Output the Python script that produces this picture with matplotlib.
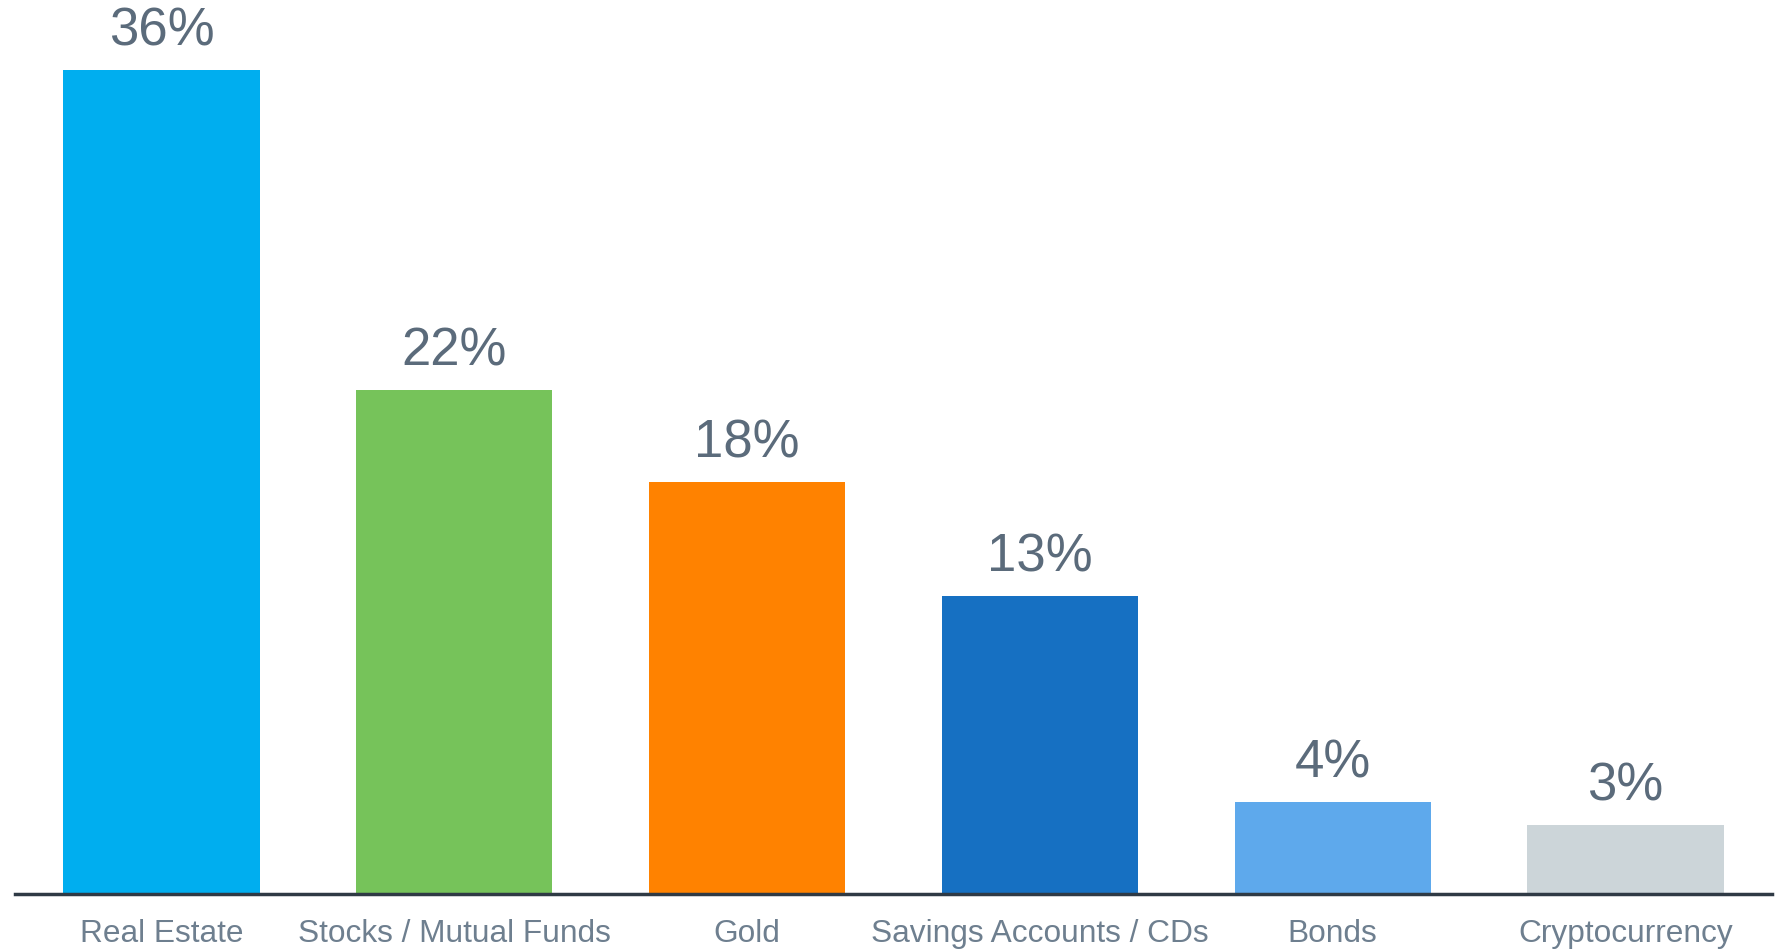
import matplotlib
matplotlib.use("Agg")
import matplotlib.pyplot as plt

categories = ["Real Estate", "Stocks / Mutual Funds", "Gold",
              "Savings Accounts / CDs", "Bonds", "Cryptocurrency"]
values = [36, 22, 18, 13, 4, 3]
colors = ["#00aeef", "#76c35a", "#ff8200", "#1670c2", "#5ea9ec", "#ccd5d9"]

plt.rcParams["font.family"] = ["Liberation Sans", "DejaVu Sans"]

fig = plt.figure(figsize=(17.81, 9.51), dpi=100)
ax = fig.add_axes([15 / 1781, 1 - 894 / 951, 1757 / 1781, 894 / 951])

x = range(len(categories))
bars = ax.bar(x, values, width=0.67, color=colors, zorder=2)

for rect, v in zip(bars, values):
    ax.annotate(f"{v}%", (rect.get_x() + rect.get_width() / 2, v),
                xytext=(0, 10), textcoords="offset points",
                ha="center", va="bottom", fontsize=38, color="#5b6b7b")

ax.set_xlim(-0.5, 5.5)
ax.set_ylim(0, 39.06)
ax.set_xticks(list(x))
ax.set_xticklabels(categories, fontsize=22.8, color="#6e7f8f")
ax.tick_params(axis="x", length=0, pad=18)
ax.set_yticks([])
for s in ["top", "left", "right"]:
    ax.spines[s].set_visible(False)
ax.spines["bottom"].set_color("#2f3a45")
ax.spines["bottom"].set_linewidth(2.5)
ax.spines["bottom"].set_zorder(3)

fig.savefig("out.png", dpi=100)
